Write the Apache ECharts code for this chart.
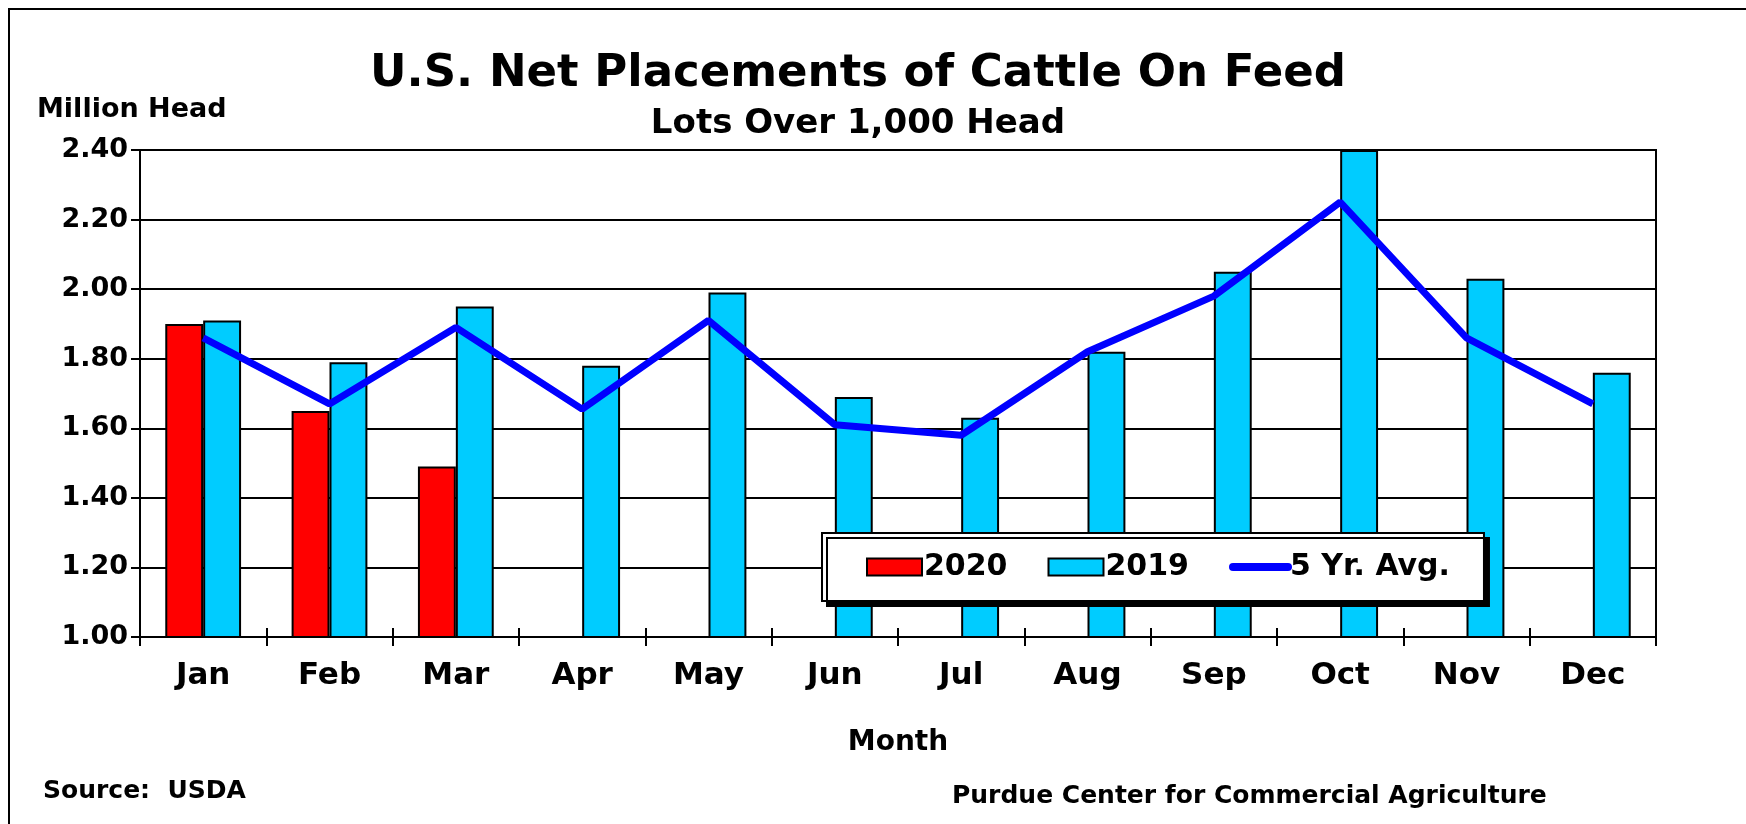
<!DOCTYPE html>
<html>
<head>
<meta charset="utf-8">
<title>U.S. Net Placements of Cattle On Feed</title>
<script src="https://cdn.jsdelivr.net/npm/echarts@6/dist/echarts.min.js"></script>
<style>
  html, body { margin: 0; padding: 0; background: #fff; }
  #chart { width: 1746px; height: 824px; }
</style>
</head>
<body>
<div id="chart"></div>
<script>
// data (million head)
const months = ["Jan", "Feb", "Mar", "Apr", "May", "Jun", "Jul", "Aug", "Sep", "Oct", "Nov", "Dec"];
const y2020 = [1.90, 1.65, 1.49, null, null, null, null, null, null, null, null, null];
const y2019 = [1.91, 1.79, 1.95, 1.78, 1.99, 1.69, 1.63, 1.82, 2.05, 2.40, 2.03, 1.76];
const avg5 = [1.86, 1.67, 1.89, 1.655, 1.91, 1.61, 1.58, 1.82, 1.98, 2.25, 1.86, 1.67];

const FONT = "DejaVu Sans";

const chart = echarts.init(document.getElementById("chart"));

chart.setOption({
  animation: false,
  textStyle: { fontFamily: FONT, fontWeight: "bold", color: "#000" },
  title: [
    {
      text: "U.S. Net Placements of Cattle On Feed",
      left: 853, top: 47, textAlign: "center",
      textStyle: { fontFamily: FONT, fontSize: 45, fontWeight: "bold", color: "#000" }
    },
    {
      text: "Lots Over 1,000 Head",
      left: 853, top: 102, textAlign: "center",
      textStyle: { fontFamily: FONT, fontSize: 34, fontWeight: "bold", color: "#000" }
    },
    {
      text: "Million Head",
      left: 32, top: 91,
      textStyle: { fontFamily: FONT, fontSize: 27, fontWeight: "bold", color: "#000" }
    },
    {
      text: "Source:  USDA",
      left: 38, top: 774,
      textStyle: { fontFamily: FONT, fontSize: 25, fontWeight: "bold", color: "#000" }
    },
    {
      text: "Purdue Center for Commercial Agriculture",
      left: 947, top: 779,
      textStyle: { fontFamily: FONT, fontSize: 25, fontWeight: "bold", color: "#000" }
    }
  ],
  graphic: [
    {
      type: "rect", silent: true, z: -1,
      shape: { x: 9, y: 9, width: 1800, height: 900 },
      style: { fill: "none", stroke: "#000", lineWidth: 2 }
    }
  ],
  grid: {
    left: 140, right: 90, top: 150, bottom: 187,
    show: true, borderColor: "#000", borderWidth: 2, backgroundColor: "transparent"
  },
  legend: {
    left: 822, top: 533,
    padding: [19, 34, 19, 44],
    itemGap: 40, itemWidth: 55, itemHeight: 17,
    backgroundColor: "#fff", borderColor: "#000", borderWidth: 2,
    shadowColor: "#000", shadowBlur: 0, shadowOffsetX: 5, shadowOffsetY: 5,
    textStyle: { fontFamily: FONT, fontSize: 30, fontWeight: "bold", color: "#000", padding: [0, 0, 0, -3] },
    data: [
      { name: "2020", icon: "rect" },
      { name: "2019", icon: "rect" },
      {
        name: "5 Yr. Avg.",
        itemStyle: { opacity: 0 },
        lineStyle: { width: 8, cap: "round", color: "#0000ff" }
      }
    ]
  },
  xAxis: [
    {
      type: "category", data: months,
      axisLine: { lineStyle: { color: "#000", width: 2 } },
      axisTick: { show: true, length: 9, lineStyle: { color: "#000", width: 2 } },
      axisLabel: { fontFamily: FONT, fontSize: 31, fontWeight: "bold", color: "#000", margin: 23 },
      name: "Month", nameLocation: "middle", nameGap: 92,
      nameTextStyle: { fontFamily: FONT, fontSize: 28, fontWeight: "bold", color: "#000" }
    },
    {
      type: "category", data: months, position: "bottom",
      axisLine: { show: false },
      axisTick: { show: true, inside: true, length: 9, lineStyle: { color: "#000", width: 2 } },
      axisLabel: { show: false }
    }
  ],
  yAxis: {
    type: "value", min: 1, max: 2.4, interval: 0.2,
    axisLine: { show: true, lineStyle: { color: "#000", width: 2 } },
    axisTick: { show: true, length: 9, lineStyle: { color: "#000", width: 2 } },
    axisLabel: {
      fontFamily: FONT, fontSize: 27, fontWeight: "bold", color: "#000", margin: 12,
      formatter: v => v.toFixed(2)
    },
    splitLine: { lineStyle: { color: "#000", width: 2 } }
  },
  series: [
    {
      name: "2020", type: "bar", data: y2020,
      barGap: "0%", barCategoryGap: "40%",
      itemStyle: { color: "#ff0000", borderColor: "#000", borderWidth: 2 }
    },
    {
      name: "2019", type: "bar", data: y2019,
      itemStyle: { color: "#00ccff", borderColor: "#000", borderWidth: 2 }
    },
    {
      name: "5 Yr. Avg.", type: "line", data: avg5,
      symbol: "none", z: 5,
      lineStyle: { color: "#0000ff", width: 7 },
      itemStyle: { color: "#0000ff" }
    }
  ]
});
</script>
</body>
</html>
